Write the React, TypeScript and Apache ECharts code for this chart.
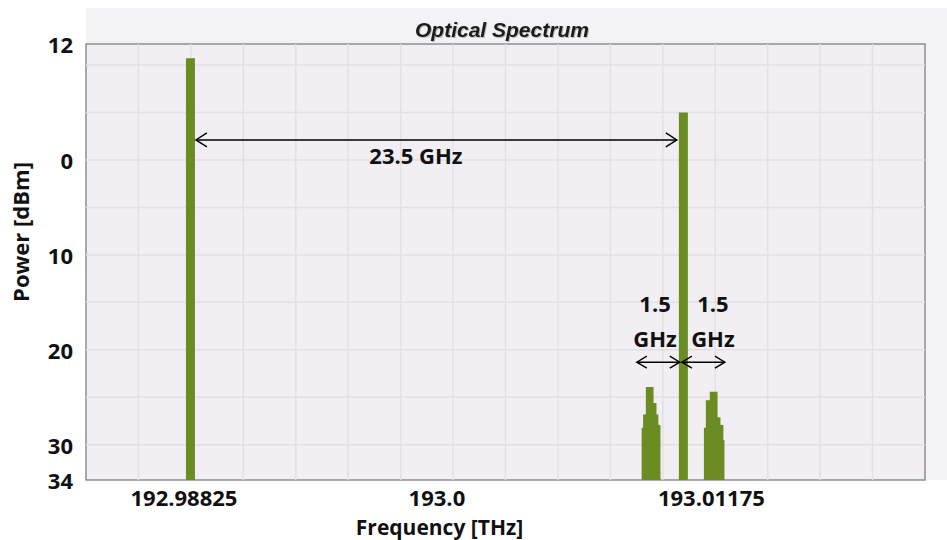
import React, { useEffect, useRef } from "react";
import * as echarts from "echarts";

// Axis extents (frequency in THz, power in dBm)
const X_MIN = 192.98327;
const X_MAX = 193.02327;
const X_GRID_STEP = 0.0025;
const Y_MIN = -33.7;
const Y_MAX = 12.2;
const Y_GRID_VALUES = [10, 5, 0, -5, -10, -15, -20, -25, -30];

// Optical carriers
const carrierFreqs = [192.98825, 193.01175];
const carrierPower = [10.7, 5.0];

// Modulation sidebands around the second carrier: step edges (THz) and level of each step (dBm)
const lowerSidebandEdges = [193.00976, 193.00983, 193.00996, 193.0103, 193.01044, 193.01053, 193.01063];
const lowerSidebandPower = [-28.2, -26.8, -23.9, -25.6, -26.8, -27.9];
const upperSidebandEdges = [193.01273, 193.01282, 193.01301, 193.01335, 193.01349, 193.01363, 193.01368];
const upperSidebandPower = [-28.2, -25.3, -24.4, -27.1, -27.9, -29.5];

// Tick labels
const xTickValues = [192.98825, 193.0, 193.01175];
const xTickLabels = ["192.98825", "193.0", "193.01175"];
const xTickStyles = ["lead", "mid", "trail"];
const yTickValues = [Y_MAX, 0, -10, -20, -30, Y_MIN];
const yTickLabels = ["12", "0", "10", "20", "30", "34"];

// Spacing annotations: double-headed arrows
const spanFrom = [192.98851, 193.00953, 193.01168];
const spanTo = [193.01144, 193.01158, 193.01373];
const spanLevel = [2.1, -21.3, -21.3];

// Annotation texts
const noteText = ["23.5 GHz", "1.5\nGHz", "1.5\nGHz"];
const noteFreq = [192.999, 193.0104, 193.01316];
const noteLevel = [0.5, -16.9, -16.9];

const GREEN = "#6a8c22";
const FONT = "'Open Sans', 'Noto Sans', sans-serif";

function nearestIndex(values: number[], v: number) {
  let best = 0;
  for (let i = 1; i < values.length; i++) {
    if (Math.abs(values[i] - v) < Math.abs(values[best] - v)) best = i;
  }
  return best;
}

function stepRows(edges: number[], power: number[]) {
  return power.map((p, i) => [edges[i], edges[i + 1], p]);
}

export default function App() {
  const ref = useRef<HTMLDivElement>(null);

  useEffect(() => {
    if (!ref.current) return;
    const chart = echarts.init(ref.current, null, { renderer: "svg" });

    const xGrid: number[][] = [];
    for (let v = X_MIN + X_GRID_STEP; v < X_MAX - X_GRID_STEP / 2; v += X_GRID_STEP) {
      xGrid.push([v, Y_MIN]);
    }
    const yGrid = Y_GRID_VALUES.map((v) => [X_MIN, v]);

    const sidebandRows = [
      ...stepRows(lowerSidebandEdges, lowerSidebandPower),
      ...stepRows(upperSidebandEdges, upperSidebandPower),
    ];

    const tickText = { fontFamily: FONT, fontWeight: "bold", fontSize: 22, color: "#111" };

    const option: any = {
      animation: false,
      backgroundColor: "#ffffff",
      title: {
        text: "Optical Spectrum",
        left: 410,
        top: 14,
        textStyle: {
          fontFamily: "'Liberation Sans', Arial, sans-serif",
          fontStyle: "italic",
          fontWeight: "bold",
          fontSize: 21,
          color: "#1a1a1a",
          textShadowColor: "rgba(0,0,0,0.25)",
          textShadowBlur: 1,
          textShadowOffsetX: 1,
          textShadowOffsetY: 1,
        },
      },
      graphic: [
        {
          type: "rect",
          z: -100,
          shape: { x: 86, y: 8, width: 861, height: 472 },
          style: { fill: "#f3f3f5" },
          silent: true,
        },
      ],
      grid: {
        left: 86,
        top: 44,
        width: 839,
        height: 436,
        show: true,
        backgroundColor: "#f1eff3",
        borderColor: "#8e8e8e",
        borderWidth: 1.5,
        containLabel: false,
        outerBoundsMode: "none",
      },
      xAxis: {
        type: "value",
        min: X_MIN,
        max: X_MAX,
        axisLine: { show: false },
        axisTick: { show: false },
        splitLine: { show: false },
        name: "Frequency [THz]",
        nameLocation: "middle",
        nameGap: 36,
        nameTextStyle: {
          fontFamily: FONT,
          fontWeight: "bold",
          fontSize: 21,
          color: "#111",
          padding: [0, 132, 0, 0],
        },
        axisLabel: {
          customValues: xTickValues,
          margin: 6,
          formatter: (v: number) => {
            const i = nearestIndex(xTickValues, v);
            return `{${xTickStyles[i]}|${xTickLabels[i]}}`;
          },
          rich: {
            lead: { ...tickText, padding: [0, 13, 0, 0] },
            mid: { ...tickText },
            trail: { ...tickText, padding: [0, 0, 0, 56] },
          },
        },
      },
      yAxis: {
        type: "value",
        min: Y_MIN,
        max: Y_MAX,
        axisLine: { show: false },
        axisTick: { show: false },
        splitLine: { show: false },
        name: "Power [dBm]",
        nameLocation: "middle",
        nameRotate: 90,
        nameGap: 55,
        nameTextStyle: {
          fontFamily: FONT,
          fontWeight: "bold",
          fontSize: 22,
          color: "#111",
          padding: [0, 0, 0, 60],
        },
        axisLabel: {
          customValues: yTickValues,
          margin: 13,
          ...tickText,
          formatter: (v: number) => yTickLabels[nearestIndex(yTickValues, v)],
        },
      },
      series: [
        {
          name: "grid-x",
          type: "custom",
          silent: true,
          z: 1,
          data: xGrid,
          renderItem: (params: any, api: any) => {
            const a = api.coord([api.value(0), Y_MIN]);
            const b = api.coord([api.value(0), Y_MAX]);
            return {
              type: "line",
              shape: { x1: a[0], y1: a[1], x2: b[0], y2: b[1] },
              style: { stroke: "#e2e0e5", lineWidth: 1.5 },
            };
          },
        },
        {
          name: "grid-y",
          type: "custom",
          silent: true,
          z: 1,
          data: yGrid,
          renderItem: (params: any, api: any) => {
            const a = api.coord([X_MIN, api.value(1)]);
            const b = api.coord([X_MAX, api.value(1)]);
            return {
              type: "line",
              shape: { x1: a[0], y1: a[1], x2: b[0], y2: b[1] },
              style: { stroke: "#e2e0e5", lineWidth: 1.5 },
            };
          },
        },
        {
          name: "Sidebands",
          type: "custom",
          z: 3,
          data: sidebandRows,
          renderItem: (params: any, api: any) => {
            const tl = api.coord([api.value(0), api.value(2)]);
            const br = api.coord([api.value(1), Y_MIN]);
            return {
              type: "rect",
              shape: { x: tl[0], y: tl[1], width: br[0] - tl[0] + 0.6, height: br[1] - tl[1] },
              style: { fill: GREEN },
            };
          },
        },
        {
          name: "Carriers",
          type: "custom",
          z: 3,
          data: carrierFreqs.map((f, i) => [f, carrierPower[i]]),
          renderItem: (params: any, api: any) => {
            const top = api.coord([api.value(0), api.value(1)]);
            const bottom = api.coord([api.value(0), Y_MIN]);
            return {
              type: "rect",
              shape: { x: top[0] - 4.5, y: top[1], width: 9, height: bottom[1] - top[1] },
              style: { fill: GREEN },
            };
          },
        },
        {
          name: "Spacing",
          type: "custom",
          silent: true,
          z: 4,
          data: spanFrom.map((f, i) => [f, spanTo[i], spanLevel[i]]),
          renderItem: (params: any, api: any) => {
            const a = api.coord([api.value(0), api.value(2)]);
            const b = api.coord([api.value(1), api.value(2)]);
            const big = params.dataIndex === 0;
            const hl = big ? 11 : 10;
            const hh = big ? 7 : 6;
            const st = { stroke: "#000", lineWidth: 1.4, fill: "none" };
            return {
              type: "group",
              children: [
                { type: "line", shape: { x1: a[0], y1: a[1], x2: b[0], y2: b[1] }, style: st },
                {
                  type: "polyline",
                  shape: { points: [[a[0] + hl, a[1] - hh], [a[0], a[1]], [a[0] + hl, a[1] + hh]] },
                  style: st,
                },
                {
                  type: "polyline",
                  shape: { points: [[b[0] - hl, b[1] - hh], [b[0], b[1]], [b[0] - hl, b[1] + hh]] },
                  style: st,
                },
              ],
            };
          },
        },
        {
          name: "Notes",
          type: "custom",
          silent: true,
          z: 5,
          data: noteFreq.map((f, i) => [f, noteLevel[i]]),
          renderItem: (params: any, api: any) => {
            const p = api.coord([api.value(0), api.value(1)]);
            return {
              type: "text",
              x: p[0],
              y: p[1],
              style: {
                text: noteText[params.dataIndex],
                fontFamily: FONT,
                fontWeight: "bold",
                fontSize: 22,
                lineHeight: 35,
                fill: "#111",
                align: "center",
                verticalAlign: "middle",
              },
            };
          },
        },
      ],
    };

    chart.setOption(option);
    return () => chart.dispose();
  }, []);

  return (
    <div
      ref={ref}
      style={{ position: "fixed", left: 0, top: 0, width: 947, height: 540, background: "#fff" }}
    />
  );
}
